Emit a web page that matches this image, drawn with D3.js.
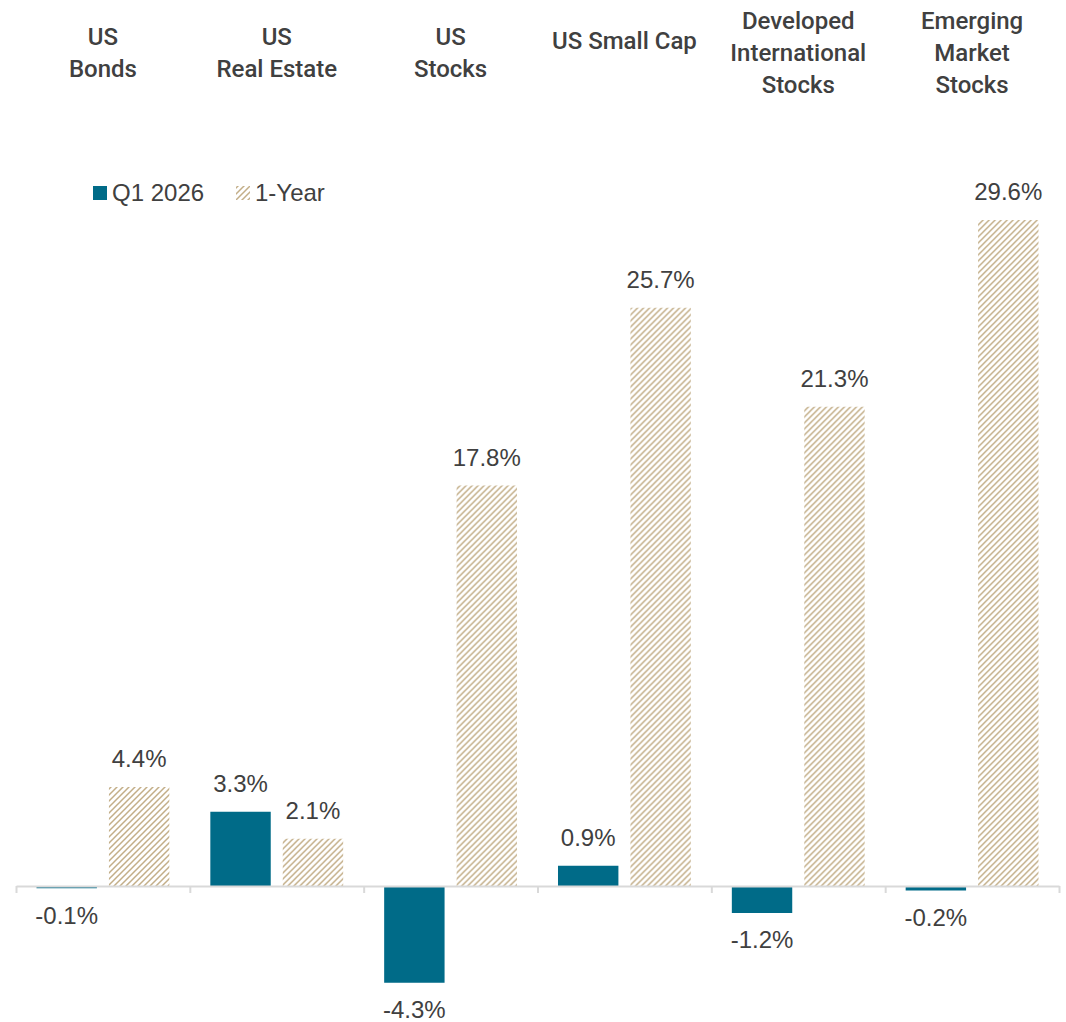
<!DOCTYPE html>
<html>
<head>
<meta charset="utf-8">
<script src="https://cdn.jsdelivr.net/npm/d3@7"></script>
<style>
  body { margin: 0; background: #fff; }
  svg { display: block; }
</style>
</head>
<body>
<svg id="chart" width="1066" height="1022"></svg>
<script>
// categories (header lines) and values
const categories = ['US Bonds', 'US Real Estate', 'US Stocks', 'US Small Cap', 'Developed International Stocks', 'Emerging Market Stocks'];
const headerLines = [
    ['US', 'Bonds'],
    ['US', 'Real Estate'],
    ['US', 'Stocks'],
    ['US Small Cap'],
    ['Developed', 'International', 'Stocks'],
    ['Emerging', 'Market', 'Stocks']
];
const q1Values = [-0.1, 3.3, -4.3, 0.9, -1.2, -0.2];
const yearValues = [4.4, 2.1, 17.8, 25.7, 21.3, 29.6];
const seriesNames = ['Q1 2026', '1-Year'];

const svg = d3.select('#chart');

const textColor = '#404040';
const barColor = '#006b88';
const hatchColor = '#c3ae88';

// diagonal hatch for the 1-year bars
const defs = svg.append('defs');
const pat = defs.append('pattern')
    .attr('id', 'hatch')
    .attr('patternUnits', 'userSpaceOnUse')
    .attr('width', 6)
    .attr('height', 6);
pat.append('path')
    .attr('d', 'M0,6 L6,0 M-1,1 L1,-1 M5,7 L7,5')
    .attr('stroke', hatchColor)
    .attr('stroke-width', 1.5);

const chartData = categories.map((c, i) => ({
    cat: c,
    lines: headerLines[i],
    values: [
        { key: seriesNames[0], value: q1Values[i] },
        { key: seriesNames[1], value: yearValues[i] }
    ]
}));

const x0 = d3.scaleBand()
    .domain(categories)
    .range([16, 1059])
    .padding(0);

const x1 = d3.scaleBand()
    .domain(seriesNames)
    .range([0, x0.bandwidth()])
    .paddingInner(0.166)
    .paddingOuter(0.283);

const y = d3.scaleLinear()
    .domain([-5, 30])
    .range([998.5, 211]);

const fill = key => key === seriesNames[0] ? barColor : 'url(#hatch)';

// bars
const groups = svg.append('g')
    .selectAll('g')
    .data(chartData)
    .join('g')
    .attr('transform', d => `translate(${x0(d.cat)},0)`);

groups.selectAll('rect')
    .data(d => d.values)
    .join('rect')
    .attr('x', d => x1(d.key))
    .attr('width', x1.bandwidth())
    .attr('y', d => y(Math.max(0, d.value)))
    .attr('height', d => Math.abs(y(d.value) - y(0)))
    .attr('fill', d => fill(d.key));

// value labels
groups.selectAll('text.val')
    .data(d => d.values)
    .join('text')
    .attr('class', 'val')
    .attr('x', d => x1(d.key) + x1.bandwidth() / 2)
    .attr('y', d => d.value >= 0 ? y(d.value) - 28 : y(d.value) + 27)
    .attr('dy', '0.35em')
    .attr('text-anchor', 'middle')
    .style('font-family', '"Liberation Sans", Arial, sans-serif')
    .style('font-size', '24px')
    .attr('fill', textColor)
    .text(d => d.value.toFixed(1) + '%');

// axis line with category separators
const tickScale = d3.scaleLinear().domain([0, categories.length]).range(x0.range());
svg.append('g')
    .attr('transform', `translate(0,${y(0)})`)
    .call(d3.axisBottom(tickScale)
        .tickValues(d3.range(categories.length + 1))
        .tickSize(7)
        .tickSizeOuter(0)
        .tickFormat(''))
    .call(g => g.select('.domain').attr('stroke', '#d9d9d9').attr('stroke-width', 2))
    .call(g => g.selectAll('.tick line').attr('stroke', '#d9d9d9').attr('stroke-width', 2));

// category headers
const headers = svg.append('g')
    .selectAll('text')
    .data(chartData)
    .join('text')
    .attr('text-anchor', 'middle')
    .style('font-family', 'Roboto, sans-serif')
    .style('font-weight', 500)
    .style('font-size', '24px')
    .attr('fill', textColor)
    .attr('transform', d => {
        const n = d.lines.length;
        const top = n === 1 ? 41 : 53 - (n - 1) * 16;
        return `translate(${x0(d.cat) + x0.bandwidth() / 2},${top})`;
    });

headers.selectAll('tspan')
    .data(d => d.lines)
    .join('tspan')
    .attr('x', 0)
    .attr('y', (d, i) => i * 32)
    .attr('dy', '0.35em')
    .text(d => d);

// legend
const legend = svg.append('g')
    .attr('transform', 'translate(93,193)');

const legendX = [0, 143];
legend.selectAll('rect')
    .data(seriesNames)
    .join('rect')
    .attr('x', (d, i) => legendX[i])
    .attr('y', -7)
    .attr('width', 14)
    .attr('height', 14)
    .attr('fill', d => fill(d));

legend.selectAll('text')
    .data(seriesNames)
    .join('text')
    .attr('x', (d, i) => legendX[i] + 19)
    .attr('dy', '0.35em')
    .style('font-family', '"Liberation Sans", Arial, sans-serif')
    .style('font-size', '24px')
    .attr('fill', textColor)
    .text(d => d);
</script>
</body>
</html>
